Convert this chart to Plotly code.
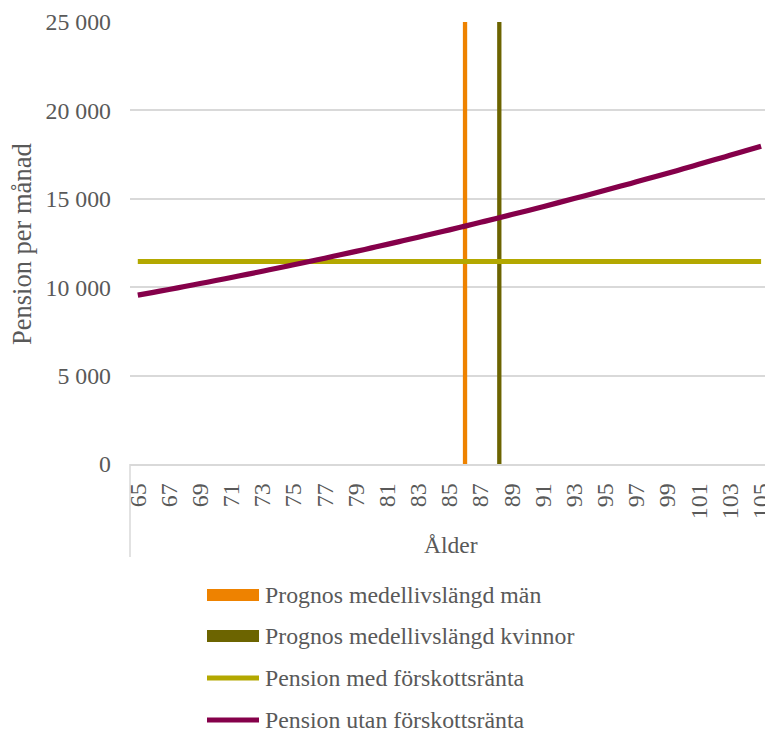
import plotly.graph_objects as go

# Age axis (years) and monthly pension without advance interest (SEK)
ages = list(range(65, 106))
pension_utan = [
    9550, 9710, 9873, 10038, 10206, 10376, 10549, 10725, 10903, 11084,
    11267, 11453, 11642, 11833, 12027, 12223, 12422, 12624, 12828, 13035,
    13244, 13456, 13671, 13888, 14108, 14330, 14555, 14783, 15013, 15246,
    15481, 15719, 15960, 16203, 16449, 16697, 16948, 17202, 17458, 17717,
    17978,
]
# Flat monthly pension with advance interest (SEK)
pension_med_level = 11450
pension_med = [pension_med_level] * len(ages)

# Forecast life expectancy markers
life_exp_men = 86.0
life_exp_women = 88.2
marker_height = 25000

y_ticks = [0, 5000, 10000, 15000, 20000, 25000]
x_ticks = list(range(65, 106, 2))

legend_labels = [
    "Prognos medellivslängd män",
    "Prognos medellivslängd kvinnor",
    "Pension med förskottsränta",
    "Pension utan förskottsränta",
]

C_MEN = "#EE8200"
C_WOMEN = "#6C6400"
C_MED = "#B3A800"
C_UTAN = "#85004A"
TXT = "#595959"
GRID = "#D9D9D9"
FONT = "Liberation Serif, Times New Roman, serif"

W, H = 765, 731
ML, MT, MR = 130, 22, 0
MB = H - 464
PW = W - ML - MR
PH = H - MT - MB


def px_x(px):
    return (px - ML) / PW


def px_y(py):
    return (H - MB - py) / PH


fig = go.Figure()

fig.add_trace(go.Scatter(x=[life_exp_men, life_exp_men], y=[0, marker_height],
                         mode="lines", line=dict(color=C_MEN, width=4.3),
                         showlegend=False, hoverinfo="skip"))
fig.add_trace(go.Scatter(x=[life_exp_women, life_exp_women], y=[0, marker_height],
                         mode="lines", line=dict(color=C_WOMEN, width=4.3),
                         showlegend=False, hoverinfo="skip"))
fig.add_trace(go.Scatter(x=ages, y=pension_med, mode="lines",
                         line=dict(color=C_MED, width=5), showlegend=False))
fig.add_trace(go.Scatter(x=ages, y=pension_utan, mode="lines",
                         line=dict(color=C_UTAN, width=5.2, shape="spline"),
                         showlegend=False))

shapes = []
annotations = []

# Category divider below the axis
shapes.append(dict(type="line", xref="paper", yref="paper",
                   x0=0, x1=0, y0=0, y1=px_y(557),
                   line=dict(color=GRID, width=1.5), layer="below"))

# Legend drawn below the plot
rows = [595, 636, 678, 720]
symbols = [("rect", C_MEN), ("rect", C_WOMEN), ("line", C_MED), ("line", C_UTAN)]
for (kind, col), label, ry in zip(symbols, legend_labels, rows):
    if kind == "rect":
        shapes.append(dict(type="rect", xref="paper", yref="paper",
                           x0=px_x(207), x1=px_x(259),
                           y0=px_y(ry + 6), y1=px_y(ry - 6),
                           fillcolor=col, line=dict(width=0)))
    else:
        shapes.append(dict(type="line", xref="paper", yref="paper",
                           x0=px_x(207), x1=px_x(259),
                           y0=px_y(ry), y1=px_y(ry),
                           line=dict(color=col, width=5)))
    annotations.append(dict(text=label, xref="paper", yref="paper",
                            x=px_x(263), y=px_y(ry), xanchor="left",
                            yanchor="middle", showarrow=False,
                            font=dict(family=FONT, size=23.8, color=TXT)))

# Axis titles
annotations.append(dict(text="Ålder", xref="paper", yref="paper",
                        x=px_x(451), y=px_y(545), xanchor="center",
                        yanchor="middle", showarrow=False,
                        font=dict(family=FONT, size=23.5, color=TXT)))
annotations.append(dict(text="Pension per månad", xref="paper", yref="paper",
                        x=px_x(22), y=px_y(244), xanchor="center",
                        yanchor="middle", showarrow=False, textangle=-90,
                        font=dict(family=FONT, size=26.5, color=TXT)))

fig.update_layout(
    width=W, height=H,
    margin=dict(l=ML, r=MR, t=MT, b=MB, pad=0),
    paper_bgcolor="white", plot_bgcolor="white",
    separators=", ",
    font=dict(family=FONT, color=TXT),
    shapes=shapes, annotations=annotations,
    showlegend=False,
)
fig.update_xaxes(
    range=[64.5, 105.25], tickvals=x_ticks, tickangle=-90,
    showgrid=False, zeroline=False, showline=True, linecolor=GRID,
    linewidth=1.5, ticks="", ticklabelstandoff=8, ticklabeloverflow="allow",
    tickfont=dict(family=FONT, size=24, color=TXT), automargin=False,
)
fig.update_yaxes(
    range=[0, 25000], tickvals=y_ticks, tickformat=",d",
    showgrid=True, gridcolor=GRID, gridwidth=1.5, zeroline=False,
    showline=False, ticks="", ticklabelstandoff=18,
    tickfont=dict(family=FONT, size=23.8, color=TXT), automargin=False,
)

fig.write_html("out.html")
